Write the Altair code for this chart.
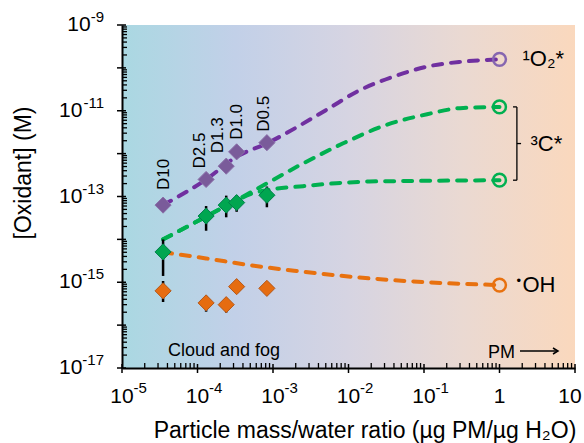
import altair as alt
import pandas as pd

# Particle size cuts and their PM/water ratios (µg PM / µg H2O)
size_cuts = ["D10", "D2.5", "D1.3", "D1.0", "D0.5"]
pm_water = [3.5e-5, 1.3e-4, 2.4e-4, 3.3e-4, 8.3e-4]

# Measured oxidant concentrations (M)
o2_measured = [6.3e-14, 2.5e-13, 5.1e-13, 1.1e-12, 1.8e-12]
c3_measured = [5.1e-15, 3.5e-14, 6.3e-14, 7.2e-14, 1.07e-13]
oh_measured = [6.3e-16, 3.3e-16, 3.0e-16, 7.9e-16, 7.2e-16]

# Uncertainty ranges (M)
c3_err_low = [1.5e-15, 1.7e-14, 3.5e-14, 4.7e-14, 6.0e-14]
c3_err_high = [9.3e-15, 5.6e-14, 9.8e-14, 1.0e-13, 1.6e-13]
oh_err_x = [3.5e-5, 1.3e-4, 2.4e-4]
oh_err_low = [3.7e-16, 2.2e-16, 2.1e-16]
oh_err_high = [1.0e-15, 4.5e-16, 4.0e-16]

# Extrapolated curves out to particle (PM) conditions
o2_curve_x = [3.5e-5, 1.3e-4, 3.3e-4, 8.3e-4, 5.1e-3, 1.4e-2, 3.9e-2, 0.11, 0.30, 1.0]
o2_curve_y = [6.3e-14, 2.5e-13, 8.5e-13, 1.74e-12, 1.05e-11, 3.0e-11, 6.2e-11, 1.07e-10, 1.38e-10, 1.58e-10]
c3_high_x = [3.5e-5, 9.8e-5, 2.45e-4, 5.5e-4, 2.5e-3, 8.5e-3, 3.2e-2, 0.11, 0.30, 1.0]
c3_high_y = [1.0e-14, 2.6e-14, 6.2e-14, 1.35e-13, 5.9e-13, 1.74e-12, 4.7e-12, 8.3e-12, 1.15e-11, 1.23e-11]
c3_low_x = [3.5e-5, 9.8e-5, 2.45e-4, 5.5e-4, 8.3e-4, 2.5e-3, 6.9e-3, 1.9e-2, 5.2e-2, 1.0]
c3_low_y = [1.0e-14, 2.6e-14, 6.2e-14, 1.2e-13, 1.41e-13, 1.74e-13, 2.04e-13, 2.24e-13, 2.29e-13, 2.4e-13]
oh_curve_x = [3.5e-5, 1.3e-4, 5.0e-4, 1.9e-3, 1.4e-2, 0.11, 1.0]
oh_curve_y = [5.0e-15, 3.6e-15, 2.5e-15, 1.86e-15, 1.29e-15, 1.0e-15, 8.6e-16]

# Axis tick labels
x_tick_vals = [1e-5, 1e-4, 1e-3, 1e-2, 1e-1, 1, 10]
x_tick_base = ["10", "10", "10", "10", "10", "1", "10"]
x_tick_exp = ["-5", "-4", "-3", "-2", "-1", "", ""]
y_major_vals = [1e-9, 1e-10, 1e-11, 1e-12, 1e-13, 1e-14, 1e-15, 1e-16, 1e-17]
y_label_vals = [1e-9, 1e-11, 1e-13, 1e-15, 1e-17]
y_label_exp = ["-9", "-11", "-13", "-15", "-17"]

W, H = 453, 343
FONT = "Liberation Sans"
BASE_FS, EXP_FS = 21, 15

PURPLE_LINE = "#7030a0"
PURPLE_PT = "#7a5b9a"
PURPLE_RING = "#8666b0"
GREEN = "#00b050"
GREEN_PT = "#00a650"
ORANGE = "#e8710f"
ORANGE_PT = "#e66c10"

xs = alt.Scale(type="log", domain=[1e-5, 10], nice=False)
ys = alt.Scale(type="log", domain=[1e-17, 1e-9], nice=False)
ax = alt.Axis(labels=False, ticks=False, grid=False, title=None, domain=True,
              domainColor="black", domainWidth=2, zindex=1)


def X(f):
    return alt.X(f"{f}:Q", scale=xs, axis=ax)


def Y(f):
    return alt.Y(f"{f}:Q", scale=ys, axis=ax)


one = pd.DataFrame({"k": [0]})

# plot-area background running from cloud/fog (blue) to PM (peach)
bg = alt.Chart(one).mark_rect(
    fill=alt.LinearGradient(
        gradient="linear", x1=0, x2=1, y1=0, y2=0,
        stops=[
            alt.GradientStop(offset=0.0, color="#aad8e2"),
            alt.GradientStop(offset=0.25, color="#c2d0e8"),
            alt.GradientStop(offset=0.5, color="#d6d4e2"),
            alt.GradientStop(offset=0.75, color="#ead9d2"),
            alt.GradientStop(offset=1.0, color="#fad8bd"),
        ],
    )
).encode(x=alt.value(0), x2=alt.value(W), y=alt.value(0), y2=alt.value(H))

layers = [bg]

# dashed extrapolation curves
for cx, cy, col in [
    (oh_curve_x, oh_curve_y, ORANGE),
    (c3_low_x, c3_low_y, GREEN),
    (c3_high_x, c3_high_y, GREEN),
    (o2_curve_x, o2_curve_y, PURPLE_LINE),
]:
    df = pd.DataFrame({"x": cx, "y": cy})
    layers.append(
        alt.Chart(df).mark_line(color=col, strokeWidth=4, strokeDash=[9, 9],
                                strokeCap="round", interpolate="monotone")
        .encode(x=X("x"), y=Y("y"), order="x:Q")
    )

# error bars
err = pd.DataFrame({
    "x": pm_water + oh_err_x,
    "lo": c3_err_low + oh_err_low,
    "hi": c3_err_high + oh_err_high,
})
layers.append(
    alt.Chart(err).mark_rule(color="black", strokeWidth=2.5, strokeCap="square")
    .encode(x=X("x"), y=Y("lo"), y2="hi")
)

# measured points
for vals, fill, stroke in [
    (oh_measured, ORANGE_PT, "#b4581a"),
    (c3_measured, GREEN_PT, "#00804a"),
    (o2_measured, PURPLE_PT, "#8a70a8"),
]:
    df = pd.DataFrame({"x": pm_water, "y": vals})
    layers.append(
        alt.Chart(df).mark_point(shape="diamond", filled=True, size=260, fill=fill,
                                 stroke=stroke, strokeWidth=1, opacity=1)
        .encode(x=X("x"), y=Y("y"))
    )

# open circles at the PM end of each curve
ends = pd.DataFrame({
    "x": [o2_curve_x[-1], c3_high_x[-1], c3_low_x[-1], oh_curve_x[-1]],
    "y": [o2_curve_y[-1], c3_high_y[-1], c3_low_y[-1], oh_curve_y[-1]],
    "c": [PURPLE_RING, GREEN, GREEN, ORANGE],
})
layers.append(
    alt.Chart(ends).mark_point(shape="circle", filled=False, size=165, strokeWidth=2.5, opacity=1)
    .encode(x=X("x"), y=Y("y"), color=alt.Color("c:N", scale=None))
)

# size-cut labels above the 1O2* points
label_nudge = [(15, 1), (11, -6), (13, -8), (12, 0), (11, -3)]
for name, xv, yv, (up, side) in zip(size_cuts, pm_water, o2_measured, label_nudge):
    df = pd.DataFrame({"x": [xv], "y": [yv], "t": [name]})
    layers.append(
        alt.Chart(df).mark_text(angle=270, align="left", baseline="middle", font=FONT,
                                fontSize=17, color="black", dx=up, dy=side)
        .encode(x=X("x"), y=Y("y"), text="t:N")
    )

# species labels to the right of the curves
c3_mid = (c3_high_y[-1] * c3_low_y[-1]) ** 0.5
for txt, yv, off, fs, dy in [
    ("¹O₂*", o2_curve_y[-1], 23, 22, 0),
    ("³C*", c3_mid, 31, 22, 0),
    ("OH", oh_curve_y[-1], 23, 22, 0),
    ("•", oh_curve_y[-1], 17, 13, -4),
]:
    df = pd.DataFrame({"x": [1.0], "y": [yv], "t": [txt]})
    layers.append(
        alt.Chart(df).mark_text(align="left", baseline="middle", font=FONT, fontSize=fs,
                                color="black", dx=off, dy=dy)
        .encode(x=X("x"), y=Y("y"), text="t:N")
    )

# bracket grouping the two 3C* curves
bx, bx_in, bx_out = 1.7, 1.51, 1.93
brk = pd.DataFrame({
    "x1": [bx, bx_in, bx_in, bx],
    "x2": [bx, bx, bx, bx_out],
    "y1": [c3_low_y[-1], c3_low_y[-1], c3_high_y[-1], c3_mid],
    "y2": [c3_high_y[-1], c3_low_y[-1], c3_high_y[-1], c3_mid],
})
layers.append(
    alt.Chart(brk).mark_rule(color="black", strokeWidth=1.3)
    .encode(x=X("x1"), x2="x2", y=Y("y1"), y2="y2")
)

# tick marks: majors cross the axis line, minors point into the plot
x_minor = [k * 10.0 ** e for e in range(-5, 1) for k in range(2, 10)]
y_minor = [k * 10.0 ** e for e in range(-17, -9) for k in range(2, 10)]
layers += [
    alt.Chart(pd.DataFrame({"v": x_tick_vals})).mark_rule(color="black", strokeWidth=1.5)
    .encode(x=X("v"), y=alt.value(H - 4), y2=alt.value(H + 5)),
    alt.Chart(pd.DataFrame({"v": x_minor})).mark_rule(color="black", strokeWidth=1.3)
    .encode(x=X("v"), y=alt.value(H - 5), y2=alt.value(H)),
    alt.Chart(pd.DataFrame({"v": y_major_vals})).mark_rule(color="black", strokeWidth=1.5)
    .encode(y=Y("v"), x=alt.value(-5), x2=alt.value(4)),
    alt.Chart(pd.DataFrame({"v": y_minor})).mark_rule(color="black", strokeWidth=1.3)
    .encode(y=Y("v"), x=alt.value(0), x2=alt.value(5)),
]

# x tick labels: base number centred on the tick, exponent raised to its right
edge_shift = [0, 0, 0, 0, 0, 0, -5]
for v, b, e, sh in zip(x_tick_vals, x_tick_base, x_tick_exp, edge_shift):
    df = pd.DataFrame({"v": [v], "b": [b], "e": [e]})
    layers.append(
        alt.Chart(df).mark_text(align="center", baseline="alphabetic", font=FONT,
                                fontSize=BASE_FS, color="black", dx=sh)
        .encode(x=X("v"), y=alt.value(H + 35), text="b:N")
    )
    if e:
        layers.append(
            alt.Chart(df).mark_text(align="left", baseline="alphabetic", font=FONT,
                                    fontSize=EXP_FS, color="black", dx=11.5)
            .encode(x=X("v"), y=alt.value(H + 25), text="e:N")
        )

# y tick labels, right-aligned as "10" + superscript exponent
char_w = {"-": 0.333}
y_right = -18
for v, e in zip(y_label_vals, y_label_exp):
    ew = sum(char_w.get(c, 0.556) for c in e) * EXP_FS
    df = pd.DataFrame({"v": [v], "b": ["10"], "e": [e]})
    layers += [
        alt.Chart(df).mark_text(align="right", baseline="middle", font=FONT, fontSize=BASE_FS,
                                color="black")
        .encode(y=Y("v"), x=alt.value(y_right - ew), text="b:N"),
        alt.Chart(df).mark_text(align="right", baseline="middle", font=FONT, fontSize=EXP_FS,
                                color="black", dy=-8)
        .encode(y=Y("v"), x=alt.value(y_right), text="e:N"),
    ]

# axis titles and annotations
layers += [
    alt.Chart(one).mark_text(text="Particle mass/water ratio (µg PM/µg H₂O)", align="center",
                             baseline="middle", font=FONT, fontSize=23, color="black")
    .encode(x=alt.value(243), y=alt.value(H + 63)),
    alt.Chart(one).mark_text(text="[Oxidant] (M)", angle=270, align="center",
                             baseline="middle", font=FONT, fontSize=23, color="black")
    .encode(x=alt.value(-98), y=alt.value(148)),
    alt.Chart(one).mark_text(text="Cloud and fog", align="left", baseline="alphabetic",
                             font=FONT, fontSize=18, color="black")
    .encode(x=alt.value(46), y=alt.value(331)),
    alt.Chart(one).mark_text(text="PM", align="left", baseline="alphabetic",
                             font=FONT, fontSize=18, color="black")
    .encode(x=alt.value(366), y=alt.value(333)),
    alt.Chart(one).mark_rule(color="black", strokeWidth=1.5)
    .encode(x=alt.value(398), x2=alt.value(436), y=alt.value(326)),
    alt.Chart(one).mark_point(shape="M-1,-0.6L0,0L-1,0.6", filled=False, size=100,
                              color="black", strokeWidth=1.5, opacity=1)
    .encode(x=alt.value(436), y=alt.value(326)),
]

chart = alt.layer(*layers).properties(
    width=W, height=H,
    autosize=alt.AutoSizeParams(type="none"),
    padding={"left": 122, "top": 25, "right": 9, "bottom": 75},
    background="white",
).configure_view(stroke=None)

chart.save("out.html", embed_options={"renderer": "svg", "actions": False})
